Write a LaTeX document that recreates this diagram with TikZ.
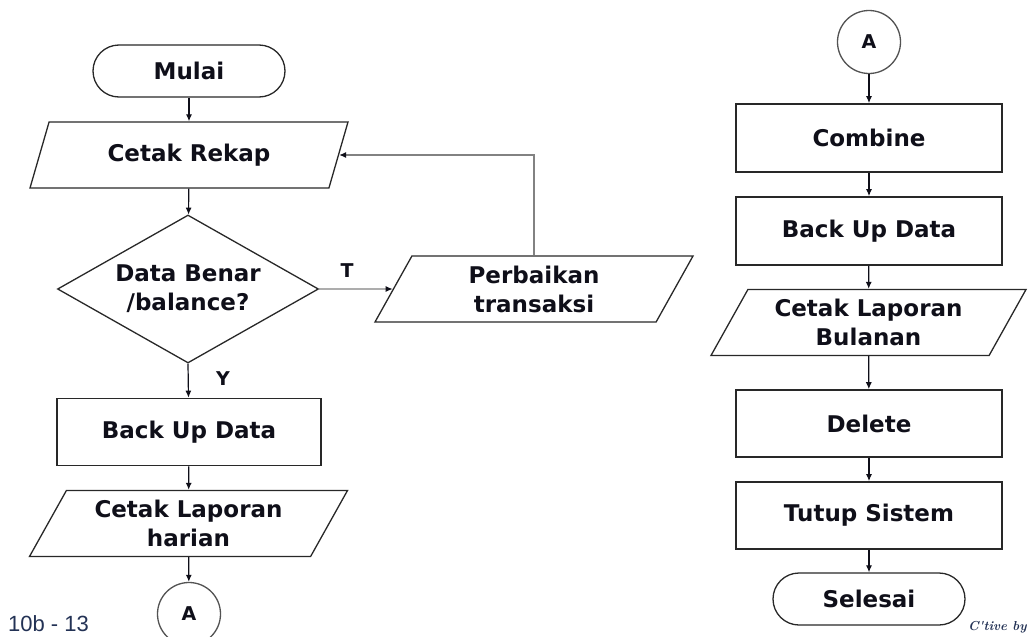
\documentclass[tikz,border=0pt]{standalone}
\usepackage{fontspec}
\setmainfont{DejaVu Sans}
\newfontfamily\labelfont{Liberation Sans}
\newfontfamily\creditfont{Latin Modern Roman}
\usetikzlibrary{shapes.geometric,arrows.meta}
\definecolor{ink}{RGB}{15,15,25}
\definecolor{edge}{RGB}{40,40,40}
\definecolor{softline}{RGB}{130,130,130}
\definecolor{slidenum}{RGB}{35,50,85}
\tikzset{
  txt/.style={font=\fontsize{23}{29}\selectfont\bfseries, text=ink, align=center},
  procbox/.style={txt, draw=edge, line width=1.6pt, rectangle, minimum width=266pt, minimum height=67pt, inner sep=2pt},
  iobox/.style={txt, draw=edge, line width=1.3pt, trapezium, trapezium left angle=54, trapezium right angle=126,
    trapezium stretches body, minimum width=318pt, minimum height=66pt, inner sep=2pt},
  termbox/.style={txt, draw=edge, line width=1.3pt, rectangle, rounded corners=26pt, minimum width=192pt, minimum height=52pt},
  decbox/.style={txt, draw=edge, line width=1.3pt, diamond, aspect=1.76, inner sep=0pt, minimum width=261pt, minimum height=148pt},
  connbox/.style={draw=edge!80, line width=1.3pt, circle, minimum size=63pt, inner sep=0pt,
    font=\fontsize{19}{22}\selectfont\bfseries, text=ink},
  flow/.style={draw=ink, line width=1.2pt, -{Latex[length=7pt,width=6pt]}},
  softflow/.style={draw=softline, line width=1.2pt, -{Latex[length=7pt,width=6pt,color=ink]}},
  branch/.style={font=\fontsize{19}{21}\selectfont\bfseries, text=ink}
}
\begin{document}
\begin{tikzpicture}[x=1pt,y=-1pt]
\useasboundingbox (0,0) rectangle (1028,637);
\clip (0,0) rectangle (1028,637);
\fill[white] (0,0) rectangle (1028,637);

% left column: daily process
\node[termbox] (mulai) at (189,71) {Mulai};
\node[iobox] (rekap) at (189,155) {Cetak Rekap};
\node[decbox] (cek) at (188,289) {Data Benar\\/balance?};
\node[iobox] (perbaikan) at (534,289) {Perbaikan\\transaksi};
\node[procbox, minimum width=264pt] (backupL) at (189,432) {Back Up Data};
\node[iobox] (harian) at (188.5,523.5) {Cetak Laporan\\harian};
\node[connbox] (connL) at (189,614) {A};

% right column: monthly process
\node[connbox] (connR) at (869,42) {A};
\node[procbox, minimum height=68pt] (combine) at (869,138) {Combine};
\node[procbox, minimum height=68pt] (backupR) at (869,231) {Back Up Data};
\node[iobox, minimum width=315pt] (bulanan) at (868.5,322.5) {Cetak Laporan\\Bulanan};
\node[procbox] (delete) at (869,423.5) {Delete};
\node[procbox] (tutup) at (869,515.5) {Tutup Sistem};
\node[termbox] (selesai) at (869,599) {Selesai};

% connectors, left column
\draw[flow] (mulai) -- (rekap);
\draw[flow] (rekap) -- (cek);
\draw[softflow] (cek.east) -- (perbaikan);
\draw[softflow] (perbaikan.north) |- (rekap);
\draw[flow] (cek.south) -- (backupL);
\draw[flow] (backupL) -- (harian);
\draw[flow] (harian) -- (connL);
\node[branch] (lblT) at (347,271) {T};
\node[branch] (lblY) at (223,379) {Y};

% connectors, right column
\draw[flow] (connR) -- (combine);
\draw[flow] (combine) -- (backupR);
\draw[flow] (backupR) -- (bulanan);
\draw[flow] (bulanan) -- (delete);
\draw[flow] (delete) -- (tutup);
\draw[flow] (tutup) -- (selesai);

% footer
\node[anchor=base west, font=\labelfont\fontsize{22}{24}\selectfont, text=slidenum, inner sep=0pt] (pageno) at (8,631) {10b - 13};
\node[anchor=base west, font=\creditfont\fontsize{13}{15}\selectfont\bfseries\itshape, text=slidenum, inner sep=0pt] (credit) at (968,630) {C'tive by};
\end{tikzpicture}
\end{document}
